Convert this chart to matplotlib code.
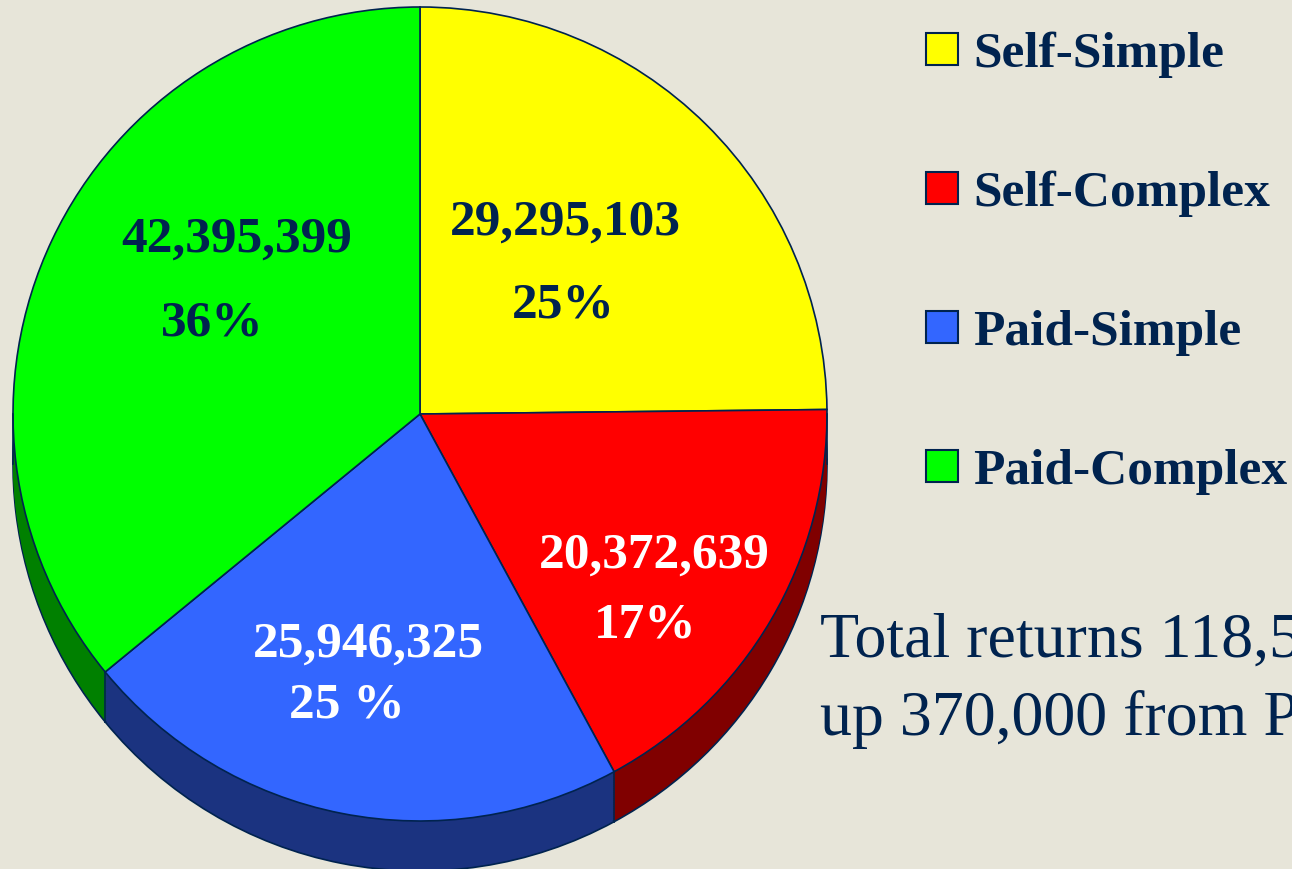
import matplotlib
matplotlib.use("Agg")
from matplotlib import pyplot as plt
from matplotlib.patches import Rectangle
import numpy as np

# data
categories = ["Self-Simple", "Self-Complex", "Paid-Simple", "Paid-Complex"]
returns = [29295103, 20372639, 25946325, 42395399]
value_labels = ["29,295,103", "20,372,639", "25,946,325", "42,395,399"]
pct_labels = ["25%", "17%", "25 %", "36%"]
note_lines = ["Total returns 118,5", "up 370,000 from P"]

top_colors = ["#FFFF00", "#FF0000", "#3366FF", "#00FF00"]
side_colors = ["#8A8A00", "#800000", "#1B3380", "#008000"]
label_colors = ["#00234F", "white", "white", "#00234F"]
navy = "#00234F"
bg = "#E7E5D9"

W, H = 1292, 869
fig = plt.figure(figsize=(W / 100, H / 100), dpi=100)
fig.patch.set_facecolor(bg)
ax = fig.add_axes([0, 0, 1, 1])
ax.set_facecolor(bg)

def py(y):
    # pixel row (from top) -> data y
    return H - y

cx, cy, r = 420, py(414), 407
depth = 50

# side of the 3D pie: stacked copies pushed down
for d in np.arange(depth, 0, -2):
    ec = navy if d == depth else "none"
    ax.pie(returns, colors=side_colors, startangle=90, counterclock=False,
           radius=r, center=(cx, cy - d),
           wedgeprops=dict(edgecolor=ec, linewidth=1.2), frame=True)

wedges, _ = ax.pie(returns, colors=top_colors, startangle=90, counterclock=False,
                   radius=r, center=(cx, cy),
                   wedgeprops=dict(edgecolor=navy, linewidth=1.2), frame=True)

# vertical edges on the side
angles = [0, 180] + [w.theta1 for w in wedges]
for a in angles:
    t = np.deg2rad(a)
    if np.sin(t) <= 1e-6:
        x0 = cx + r * np.cos(t)
        y0 = cy + r * np.sin(t)
        ax.plot([x0, x0], [y0, y0 - depth], color=navy, lw=1.2)

# slice labels: (value x, value baseline, pct x, pct baseline) in pixels
label_pos = [(565, 235, 563, 318), (654, 568, 645, 638),
             (368, 657, 347, 718), (237, 252, 212, 335)]
for i in range(len(returns)):
    x1, y1, x2, y2 = label_pos[i]
    ax.text(x1, py(y1), value_labels[i], ha="center", va="baseline",
            fontsize=37, fontweight="bold", family="Liberation Serif",
            color=label_colors[i])
    ax.text(x2, py(y2), pct_labels[i], ha="center", va="baseline",
            fontsize=37, fontweight="bold", family="Liberation Serif",
            color=label_colors[i])

# legend
for i, name in enumerate(categories):
    top = 33 + 139 * i
    ax.add_patch(Rectangle((926, py(top + 32)), 32, 32, facecolor=top_colors[i],
                           edgecolor=navy, linewidth=1.5))
    ax.text(973, py(top + 34), name, ha="left", va="baseline", fontsize=37,
            fontweight="bold", family="Liberation Serif", color=navy)

# note on the right, runs off the slide edge like the original
ax.text(820, py(657), note_lines[0], ha="left", va="baseline", fontsize=46,
        family="Liberation Serif", color=navy, clip_on=False)
ax.text(820, py(735), note_lines[1], ha="left", va="baseline", fontsize=46,
        family="Liberation Serif", color=navy, clip_on=False)

ax.set_xlim(0, W)
ax.set_ylim(0, H)
ax.set_aspect("auto")
ax.axis("off")

fig.savefig("out.png", dpi=100, facecolor=bg)
